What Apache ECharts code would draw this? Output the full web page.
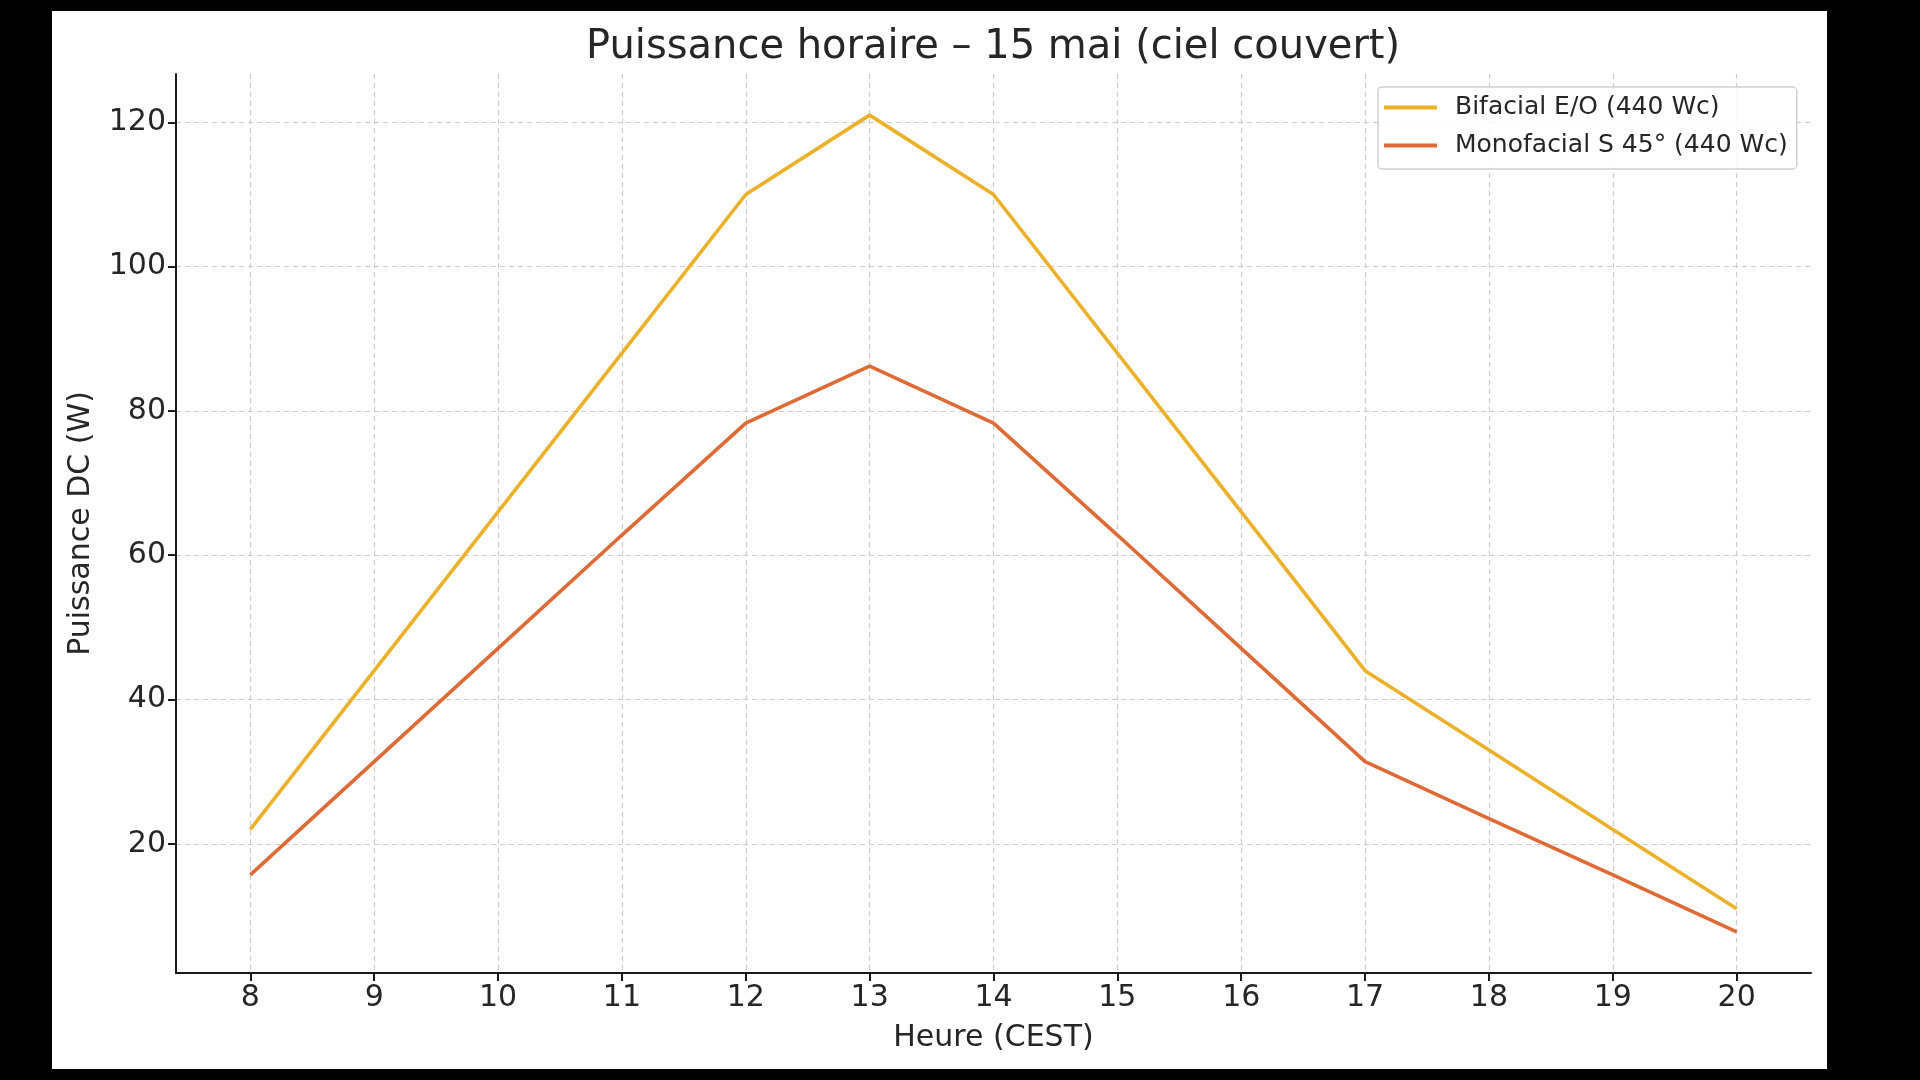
<!DOCTYPE html>
<html>
<head>
<meta charset="utf-8">
<script src="https://cdn.jsdelivr.net/npm/echarts@6/dist/echarts.min.js"></script>
<style>
  html, body { margin: 0; padding: 0; background: #000; width: 1920px; height: 1080px; overflow: hidden; }
  #Chart { position: absolute; left: 52px; top: 11px; width: 1775px; height: 1058px; background: #fff; }
</style>
</head>
<body>
<div id="Chart"></div>
<script>
// heures (CEST)
const hours = [ 8, 9, 10, 11, 12, 13, 14, 15, 16, 17, 18, 19, 20 ]
// puissance DC (W)
const bifacial = [ 22, 44, 66, 88, 110, 121, 110, 88, 66, 44, 33, 22, 11 ]
const monofacial = [ 15.7, 31.4, 47.1, 62.8, 78.3, 86.2, 78.3, 62.8, 47.1, 31.4, 23.5, 15.7, 7.8 ]
const yTicks = [ 20, 40, 60, 80, 100, 120 ]
const seriesNames = [ "Bifacial E/O (440 Wc)", "Monofacial S 45° (440 Wc)" ]

const font = "\"DejaVu Sans\", sans-serif"
const textColor = "#262626"
const pair = (xs, ys) => xs.map((x, i) => [ x, ys[i] ])

const chart = echarts.init(document.getElementById("Chart"))
let option = {
  animation: false,
  textStyle: { fontFamily: font, color: textColor },
  title: {
    text: "Puissance horaire – 15 mai (ciel couvert)",
    left: 529,
    top: 12,
    textStyle: { fontFamily: font, fontSize: 40, fontWeight: "normal", color: textColor }
  },
  legend: {
    orient: "vertical",
    left: 1326,
    top: 76,
    icon: "rect",
    itemWidth: 53,
    itemHeight: 4,
    itemGap: 13,
    padding: [ 8, 9, 11, 6 ],
    borderColor: "#d0d0d0",
    borderWidth: 1.5,
    borderRadius: 4,
    backgroundColor: "rgba(255,255,255,0.85)",
    textStyle: { fontFamily: font, fontSize: 25, color: textColor, lineHeight: 25, padding: [ 0, 0, 0, 13 ] },
    data: seriesNames
  },
  grid: {
    left: 124,
    right: 16,
    top: 63,
    bottom: 96
  },
  xAxis: {
    type: "value",
    min: 7.4,
    max: 20.6,
    name: "Heure (CEST)",
    nameLocation: "middle",
    nameGap: 50,
    nameTextStyle: { fontFamily: font, fontSize: 30, color: textColor },
    axisLine: { lineStyle: { color: "#1a1a1a", width: 2 } },
    axisTick: { customValues: hours, length: 8, lineStyle: { color: "#1a1a1a", width: 2 } },
    axisLabel: { customValues: hours, fontSize: 30, color: textColor, margin: 10 },
    splitLine: { show: true, lineStyle: { color: "#cccccc", width: 1.2, type: [ 5, 4 ] } }
  },
  yAxis: {
    type: "value",
    min: 2.1,
    max: 126.7,
    name: "Puissance DC (W)",
    nameLocation: "middle",
    nameGap: 80,
    nameTextStyle: { fontFamily: font, fontSize: 30, color: textColor },
    axisLine: { show: true, lineStyle: { color: "#1a1a1a", width: 2 } },
    axisTick: { show: true, customValues: yTicks, length: 8, lineStyle: { color: "#1a1a1a", width: 2 } },
    axisLabel: { customValues: yTicks, fontSize: 30, color: textColor, margin: 10 },
    splitLine: { show: true, lineStyle: { color: "#cccccc", width: 1.2, type: [ 5, 4 ] } }
  },
  series: [
    {
      name: seriesNames[0],
      type: "line",
      symbol: "none",
      color: "#ebb12a",
      lineStyle: { width: 3.6, color: "#ebb12a" },
      data: pair(hours, bifacial)
    },
    {
      name: seriesNames[1],
      type: "line",
      symbol: "none",
      color: "#de6a35",
      lineStyle: { width: 3.6, color: "#de6a35" },
      data: pair(hours, monofacial)
    }
  ]
}
chart.setOption(option)
</script>
</body>
</html>
